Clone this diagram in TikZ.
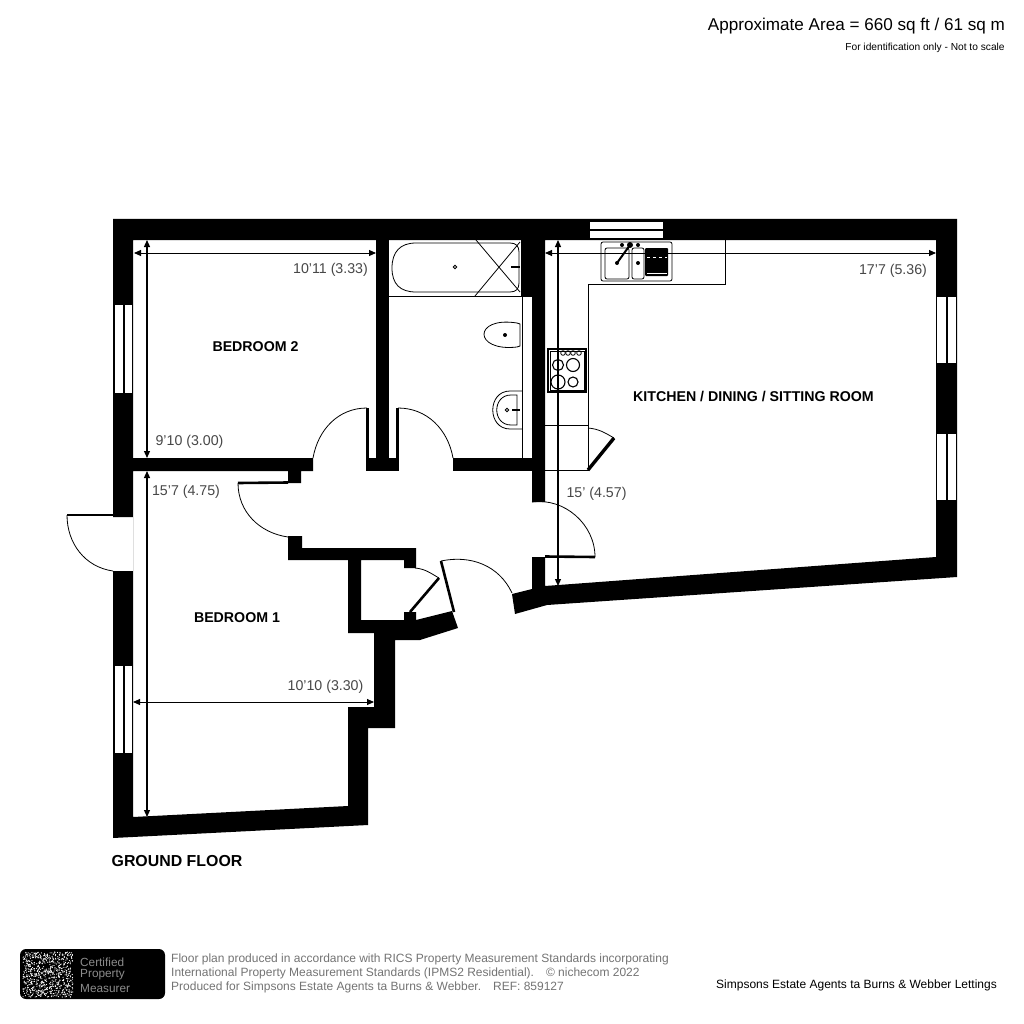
\documentclass[tikz,border=0pt]{standalone}
\usepackage{fontspec}
\setmainfont{Liberation Sans}
\usetikzlibrary{arrows.meta}
\tikzset{
	wall/.style={fill=black,draw=none},
	pane/.style={fill=white,draw=none},
	thinline/.style={draw=black,line width=0.8pt},
	leaf/.style={draw=black,line width=2.6pt},
	swing/.style={draw=black,line width=0.8pt},
	dimline/.style={draw=black,line width=1.2pt,{Triangle[length=7pt,width=6pt]}-{Triangle[length=7pt,width=6pt]}},
	dimtext/.style={text=black!72,font=\fontsize{14.2}{15}\selectfont,inner sep=0pt},
	roomname/.style={font=\fontsize{14.2}{15}\selectfont\bfseries,inner sep=0pt},
	smallprint/.style={text=black!55,font=\fontsize{12}{13}\selectfont,inner sep=0pt,anchor=west},
	logotext/.style={text=black!45,font=\fontsize{11.8}{13}\selectfont,inner sep=0pt,anchor=west}
}
\begin{document}
\begin{tikzpicture}[x=1pt, y=-1pt]
		\useasboundingbox (0,0) rectangle (1024,1024);
		% walls
		\begin{scope}
			\fill[wall] (113,219) -- (957,219) -- (957,577) -- (547,605) -- (515,614) -- (512,594) -- (532,589)
			-- (532,557) -- (545,557) -- (545,586) -- (936,557) -- (936,240) -- (545,240) -- (545,502) -- (532,502)
			-- (532,296) -- (521,296) -- (521,240) -- (133,240) -- (133,458) -- (313,458)
			-- (313,471) -- (301,471) -- (301,483) -- (288,483) -- (288,471) -- (133,471) -- (133,817) -- (348,806)
			-- (348,707) -- (374,707) -- (374,633) -- (348,633) -- (348,560) -- (288,560) -- (288,536) -- (302,536)
			-- (302,548) -- (416,548) -- (416,568) -- (404,568) -- (404,560) -- (361,560) -- (361,620) -- (404,620)
			-- (404,612) -- (416,612) -- (416,620) -- (452,611) -- (458,628) -- (420,640) -- (395,640) -- (395,728)
			-- (368,728) -- (368,825) -- (113,838) -- (113,571) -- (133,571) -- (133,517) -- (113,517) -- cycle;
			\fill[wall] (453,458) rectangle (532,471);
			\fill[wall] (376,240) rectangle (389,471);
			\fill[wall] (366,458) rectangle (399,471);
			\fill[wall] (366,408) rectangle (369,458);
			\fill[wall] (396,408) rectangle (399,458);
		\end{scope}
		% windows
		\begin{scope}
			\fill[pane] (115,305) rectangle (123,393);
			\fill[pane] (125,305) rectangle (132,393);
			\fill[pane] (115,666) rectangle (123,753);
			\fill[pane] (125,666) rectangle (132,753);
			\fill[pane] (937,297) rectangle (946,363);
			\fill[pane] (948,297) rectangle (956,363);
			\fill[pane] (937,434) rectangle (946,500);
			\fill[pane] (948,434) rectangle (956,500);
			\fill[pane] (590,222) rectangle (663,229);
			\fill[pane] (590,231) rectangle (663,238);
		\end{scope}
		% doors
		\begin{scope}
			\coordinate (frontfree) at (67,515);
			\coordinate (frontend) at (113,571);
			\coordinate (bedonefree) at (238,483);
			\coordinate (bedoneend) at (288,537);
			\coordinate (bedtwofree) at (367,408);
			\coordinate (bedtwoend) at (313,458);
			\coordinate (bathfree) at (398,408);
			\coordinate (bathend) at (453,458);
			\coordinate (livefree) at (595,557);
			\coordinate (liveend) at (532,502);
			\coordinate (entryfree) at (441,561);
			\coordinate (entryend) at (512,593);
			\coordinate (cupfree) at (439,578);
			\coordinate (cupend) at (415,568);
			\coordinate (kitfree) at (614,438);
			\coordinate (kitend) at (588,428);
			\draw[leaf] (113,515) -- (frontfree);
			\draw[leaf] (288,482.500) -- (bedonefree);
			\draw[leaf] (545,556.500) -- (livefree);
			\draw[leaf] (454,612) -- (entryfree);
			\draw[leaf] (410,612) -- (cupfree);
			\draw[leaf,line width=3.400pt] (588,470) -- (kitfree);
			\draw[swing] (frontfree) to[out=-90,in=172] (frontend);
			\draw[swing] (bedonefree) to[out=-90,in=172] (bedoneend);
			\draw[swing] (bedtwofree) to[out=180,in=80] (bedtwoend);
			\draw[swing] (bathfree) to[out=0,in=100] (bathend);
			\draw[swing] (livefree) to[out=90,in=8] (liveend);
			\draw[swing] (entryfree) to[out=12,in=115] (entryend);
			\draw[swing] (cupfree) to[out=150,in=-5] (cupend);
			\draw[swing] (kitfree) to[out=150,in=-5] (kitend);
		\end{scope}
		% bathroom
		\begin{scope}
			\draw[thinline] (389,296) -- (532,296);
			\draw[thinline] (522,296) -- (522,458);
			\draw[thinline] (392,268) .. controls (392,252) and (400,243) .. (416,243) -- (510,243)
			.. controls (516,243) and (519,246) .. (519,252) -- (519,283)
			.. controls (519,289) and (516,292) .. (510,292) -- (416,292)
			.. controls (400,292) and (392,284) .. (392,268);
			\draw[thinline] (476,240) -- (520,292);
			\draw[thinline] (475,296) -- (520,242);
			\draw[thinline] (455,267) circle (1.800);
			\draw[line width=2.400pt] (511,267) -- (520,267);
			\draw[thinline] (517,323) .. controls (473,316) and (473,352) .. (517,347) -- (520,346) -- (520,324) -- cycle;
			\fill (505,335) circle (2);
			\draw[thinline] (522,391) -- (510,391) .. controls (487,391) and (487,429) .. (510,429) -- (522,429);
			\draw[thinline] (517,395) -- (511,395) .. controls (492,395) and (492,425) .. (511,425) -- (517,425) -- cycle;
			\draw[thinline] (507,410) circle (1.800);
			\draw[line width=2pt] (512,410) -- (520,410);
		\end{scope}
		% kitchen
		\begin{scope}
			\draw[thinline] (725,240) -- (725,284) -- (588,284) -- (588,470) -- (545,470);
			\draw[thinline] (545,425) -- (588,425);
			\draw[thinline,rounded corners=2pt] (601,242) rectangle (672,281);
			\draw[thinline,rounded corners=2pt] (605,248) rectangle (629,279);
			\draw[thinline,rounded corners=2pt] (632,248) rectangle (644,279);
			\fill[rounded corners=1pt] (645,248) rectangle (668,276);
			\draw[white,dashed,line width=0.7pt] (647,257) -- (667,257);
			\draw[white,line width=0.7pt] (647,273) -- (667,273);
			\draw[line width=2pt] (617,263) -- (630,245);
			\fill (617,263) circle (2);
			\fill (638,263) circle (2);
			\fill (630,245) circle (3);
			\fill (622,245) circle (2);
			\fill (638,245) circle (2);
			\draw[line width=1.400pt,fill=white] (548,349) rectangle (586,392);
			\draw[thinline] (550,351) rectangle (584,390);
			\foreach \knob in {563,568,573,579} {
				\draw[thinline] (\knob,353) circle (2.300);
			}
			\draw[line width=1.100pt] (558,365) circle (5.500);
			\draw[line width=1.100pt] (573,365) circle (6.500);
			\draw[line width=1.100pt] (558,382) circle (7);
			\draw[line width=1.100pt] (573,382) circle (5);
		\end{scope}
		% dimensions
		\begin{scope}
			\coordinate (bedtwowest) at (134,253);
			\coordinate (bedtwoeast) at (376,253);
			\coordinate (bedtwotop) at (147,240);
			\coordinate (bedtwofoot) at (147,458);
			\coordinate (bedonetop) at (147,471);
			\coordinate (bedonefoot) at (147,817);
			\coordinate (bedonewest) at (133,702);
			\coordinate (bedoneeast) at (374,702);
			\coordinate (kitwest) at (545,253);
			\coordinate (kiteast) at (936,253);
			\coordinate (kittop) at (558,240);
			\coordinate (kitfoot) at (558,586);
			\draw[dimline,line width=0.9pt] (bedtwowest) -- (bedtwoeast);
			\draw[dimline] (bedtwotop) -- (bedtwofoot);
			\draw[dimline] (bedonetop) -- (bedonefoot);
			\draw[dimline,line width=0.9pt] (bedonewest) -- (bedoneeast);
			\draw[dimline,line width=0.9pt] (kitwest) -- (kiteast);
			\draw[dimline] (kittop) -- (kitfoot);
			\node[dimtext] (bedtwowidth) at (330.500,270) {10'11 (3.33)};
			\node[dimtext] (bedtwodepth) at (189.500,442) {9'10 (3.00)};
			\node[dimtext] (bedonedepth) at (186,492) {15'7 (4.75)};
			\node[dimtext] (bedonewidth) at (325.500,687) {10'10 (3.30)};
			\node[dimtext] (kitwidth) at (893,271) {17'7 (5.36)};
			\node[dimtext] (kitdepth) at (596.500,494) {15' (4.57)};
		\end{scope}
		% room names
		\node[roomname] (bedtwo) at (255.500,346.500) {BEDROOM 2};
		\node[roomname] (bedone) at (237,618) {BEDROOM 1};
		\node[roomname] (kitchen) at (753.500,396.500) {KITCHEN / DINING / SITTING ROOM};
		\node[roomname,font=\fontsize{15.9}{17}\selectfont\bfseries] (floor) at (177,861) {GROUND FLOOR};
		% header and footer
		\node[inner sep=0pt,font=\fontsize{17.1}{18}\selectfont] (area) at (856.500,26) {Approximate Area = 660 sq ft / 61 sq m};
		\node[inner sep=0pt,font=\fontsize{10.2}{11}\selectfont] (scale) at (925,48) {For identification only - Not to scale};
		\node[inner sep=0pt,font=\fontsize{12}{13}\selectfont] (agent) at (856.500,985) {Simpsons Estate Agents ta Burns \& Webber Lettings};
		\fill[rounded corners=6pt] (20,949) rectangle (165,999);
		\pgfmathsetseed{7}
		\foreach \speck in {1,...,700} {
			\fill[white] ({23+50*rnd},{952+45*rnd}) circle (0.6);
		}
		\node[logotext] (logoa) at (80,962) {Certified};
		\node[logotext] (logob) at (80,975) {Property};
		\node[logotext] (logoc) at (80,988) {Measurer};
		\node[smallprint] (printa) at (171,959) {Floor plan produced in accordance with RICS Property Measurement Standards incorporating};
		\node[smallprint] (printb) at (171,973) {International Property Measurement Standards (IPMS2 Residential).\quad © nichecom 2022};
		\node[smallprint] (printc) at (171,987) {Produced for Simpsons Estate Agents ta Burns \& Webber.\quad REF: 859127};
	\end{tikzpicture}
\end{document}
